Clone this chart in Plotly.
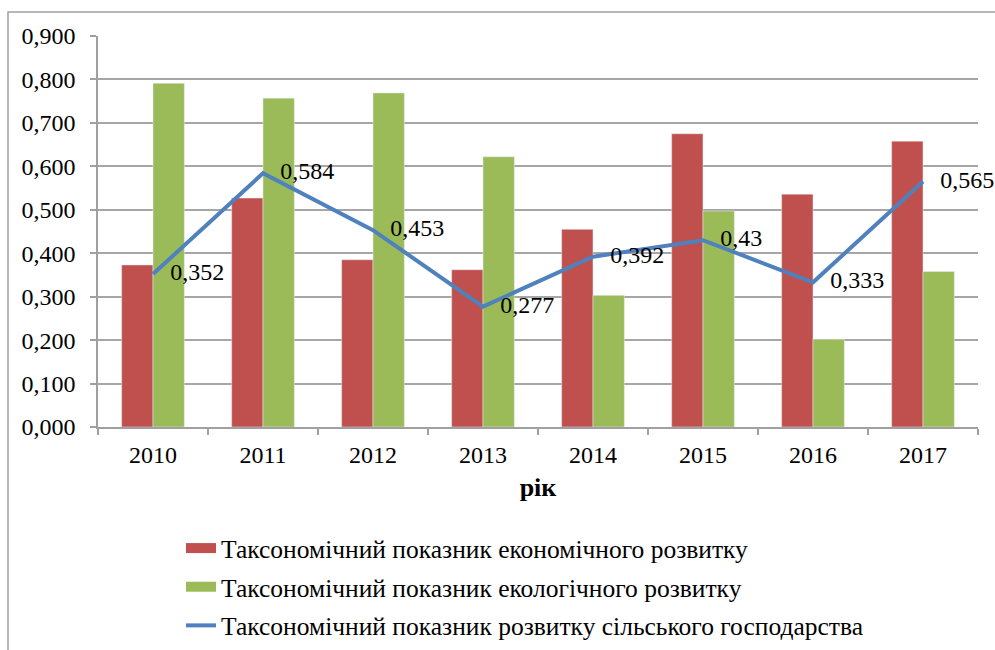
import plotly.graph_objects as go

years = ["2010", "2011", "2012", "2013", "2014", "2015", "2016", "2017"]
econ = [0.373, 0.527, 0.385, 0.362, 0.455, 0.675, 0.536, 0.658]
ecol = [0.791, 0.757, 0.769, 0.622, 0.303, 0.497, 0.202, 0.358]
agri = [0.352, 0.584, 0.453, 0.277, 0.392, 0.43, 0.333, 0.565]
agri_labels = [str(v).replace(".", ",") for v in agri]
y_ticks = [0.0, 0.1, 0.2, 0.3, 0.4, 0.5, 0.6, 0.7, 0.8, 0.9]

name_econ = "Таксономічний показник економічного розвитку"
name_ecol = "Таксономічний показник екологічного розвитку"
name_agri = "Таксономічний показник розвитку сільського господарства"

RED = "#C0504D"
GREEN = "#9BBB59"
BLUE = "#4F81BD"
FONT = "Times New Roman"
FS = 24

fig = go.Figure()
fig.add_trace(go.Bar(x=years, y=econ, name=name_econ, marker_color=RED,
                     showlegend=False))
fig.add_trace(go.Bar(x=years, y=ecol, name=name_ecol, marker_color=GREEN,
                     showlegend=False))
fig.add_trace(go.Scatter(x=years, y=agri, name=name_agri, mode="lines+markers+text",
                         line=dict(color=BLUE, width=4),
                         marker=dict(size=26, color="rgba(0,0,0,0)"),
                         text=agri_labels, textposition="middle right",
                         textfont=dict(family=FONT, size=FS, color="black"),
                         showlegend=False, cliponaxis=False))
# legend entries
for nm, col, w, grp in [(name_econ, RED, 12, "a"), (name_ecol, GREEN, 12, "b"), (name_agri, BLUE, 4, "c")]:
    fig.add_trace(go.Scatter(x=[None], y=[None], mode="lines", name=nm,
                             line=dict(color=col, width=w), legendgroup=grp))

fig.update_layout(
    width=995, height=650,
    margin=dict(l=98, r=17, t=36, b=223, autoexpand=False),
    paper_bgcolor="white", plot_bgcolor="white",
    separators=", ",
    barmode="group", bargap=0.43, bargroupgap=0,
    font=dict(family=FONT, size=FS, color="black"),
    showlegend=True,
    legend=dict(x=(181 - 98) / 880, xanchor="left", y=(427 - 525) / 391, yanchor="top",
                font=dict(family=FONT, size=25.5, color="black"),
                tracegroupgap=2.5, traceorder="grouped", bgcolor="rgba(0,0,0,0)"),
    xaxis=dict(type="category", range=[-0.5, 7.5], showgrid=False, showline=True,
               linecolor="#A0A0A0", linewidth=1.5, ticks="outside", tickson="boundaries",
               ticklen=6, tickcolor="#A0A0A0", tickwidth=1.5, ticklabelstandoff=5,
               automargin=False, tickfont=dict(family=FONT, size=FS, color="black"),
               title=dict(text="<b>рік</b>", font=dict(family=FONT, size=26, color="black"),
                          standoff=11)),
    yaxis=dict(range=[0, 0.9], tickvals=y_ticks, tickformat=".3f", showgrid=True,
               gridcolor="#A6A6A6", gridwidth=1.5, showline=True, linecolor="#A0A0A0",
               linewidth=1.5, ticks="outside", ticklen=6, tickcolor="#A0A0A0",
               tickwidth=1.5, ticklabelstandoff=10, zeroline=False, automargin=False,
               tickfont=dict(family=FONT, size=FS, color="black")),
)
# outer frame of the chart area
fig.add_shape(type="rect", xref="paper", yref="paper",
              x0=(8 - 98) / 880, x1=(1010 - 98) / 880,
              y0=(427 - 670) / 391, y1=(427 - 12) / 391,
              line=dict(color="#A0A0A0", width=1.5), fillcolor="rgba(0,0,0,0)", layer="below")

fig.write_html("out.html", config={"displayModeBar": False},
               post_script="document.body.style.margin='0';")
